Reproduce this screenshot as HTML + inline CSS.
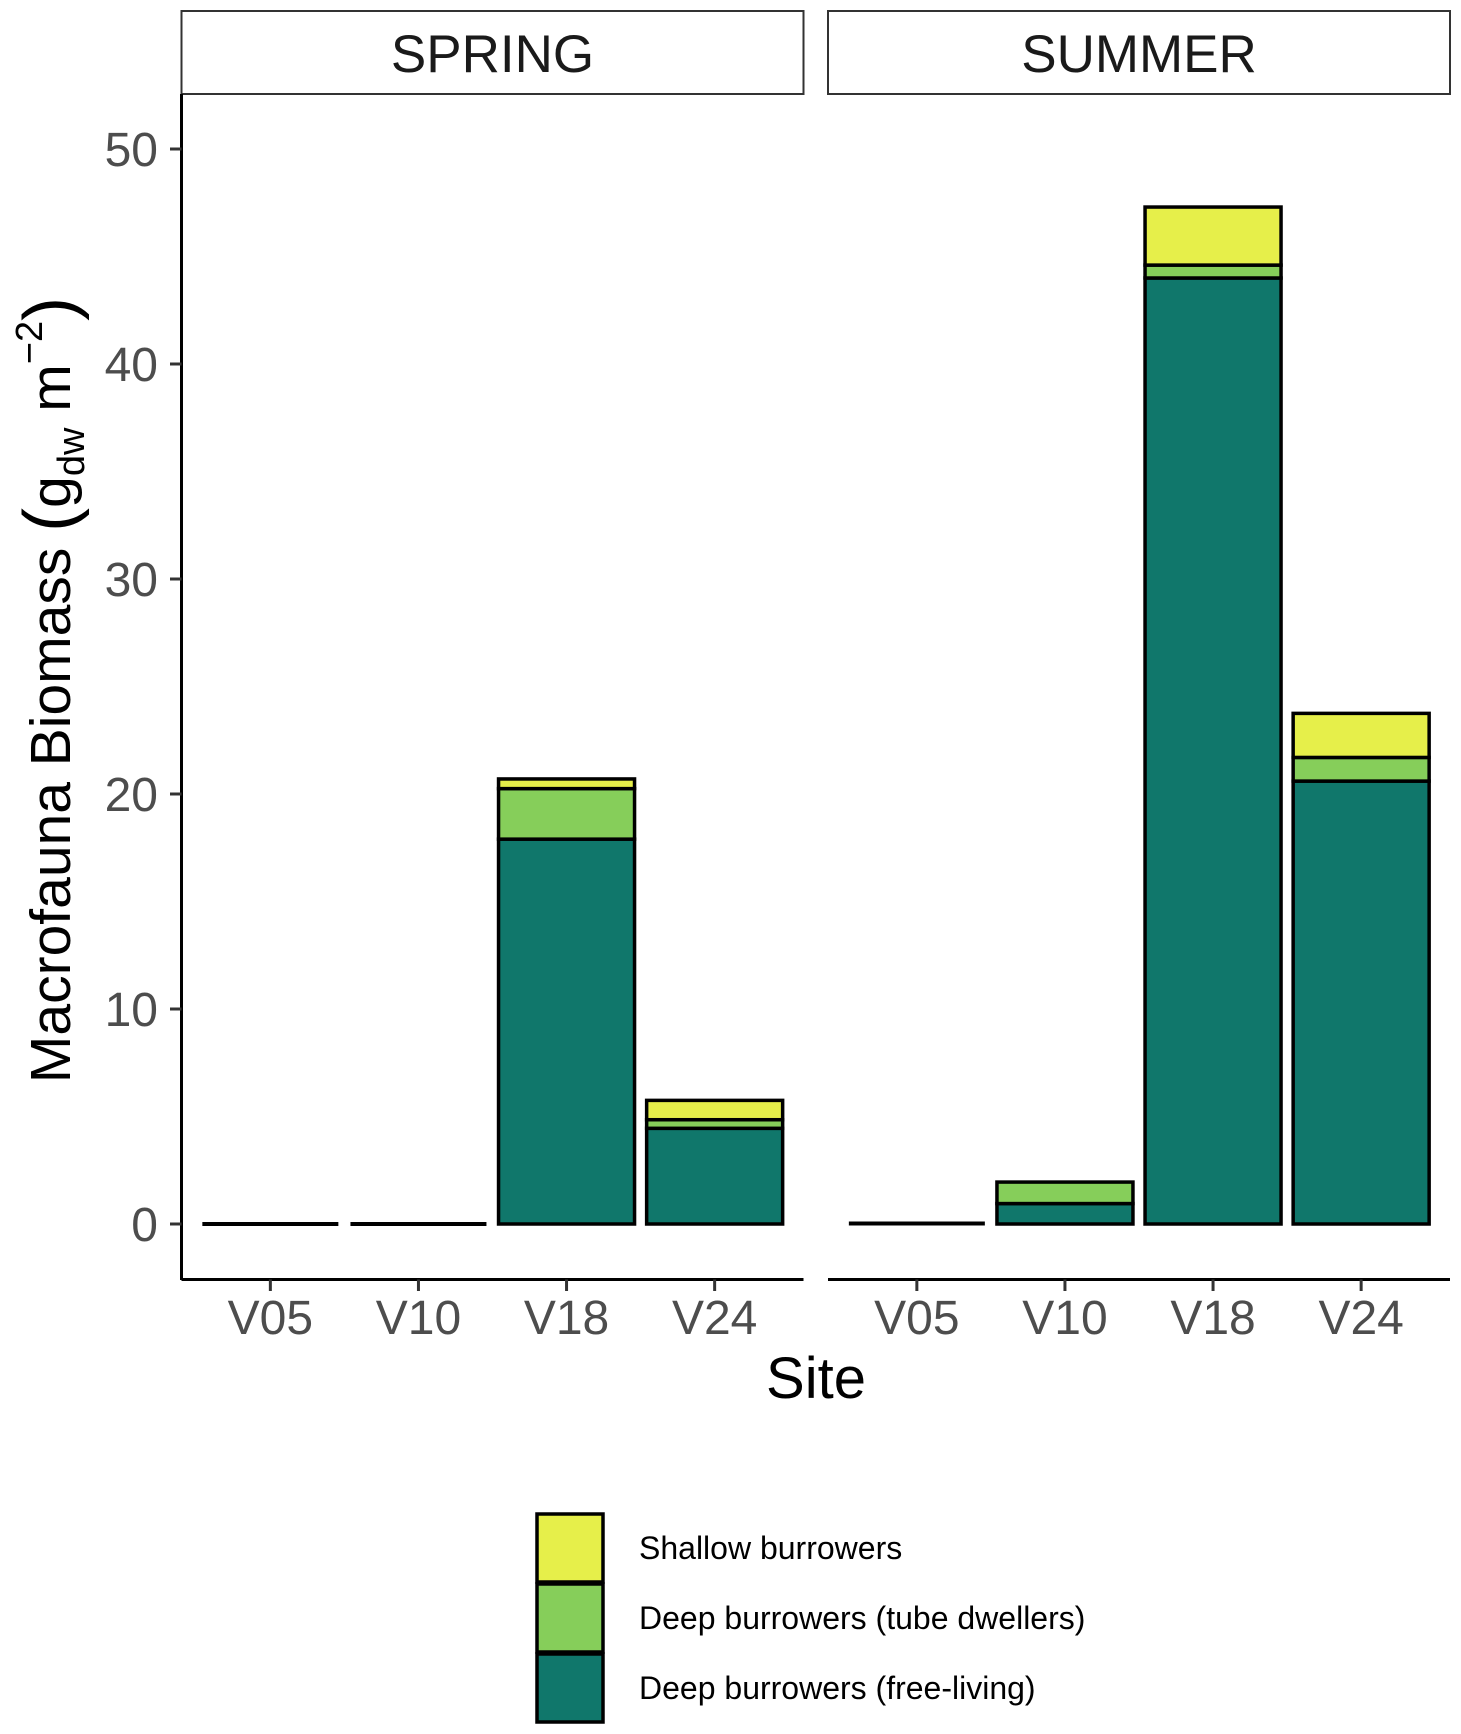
<!DOCTYPE html>
<html><head><meta charset="utf-8"><style>
html,body{margin:0;padding:0;background:#fff;}
svg{display:block;font-family:"Liberation Sans",Arial,sans-serif;}
</style></head><body>
<svg id="chart" width="1461" height="1734" viewBox="0 0 1461 1734">
<g id="panels"></g>
<g>
<line x1="181.5" y1="94" x2="181.5" y2="1280" stroke="#000" stroke-width="3"/>
<g id="yticks"></g>
</g>
<text x="816" y="1398" font-size="58" text-anchor="middle" fill="#000">Site</text>
<text transform="translate(70,690) rotate(-90)" font-size="57" text-anchor="middle" fill="#000">Macrofauna Biomass <tspan font-size="72" dy="4">(</tspan><tspan dy="-4">g</tspan><tspan font-size="38" dy="14">dw</tspan><tspan dy="-14"> m</tspan><tspan font-size="38" dy="-28">−2</tspan><tspan font-size="72" dy="32">)</tspan></text>
<g id="legend"></g>
</svg>
<script>
const panels = ["SPRING","SUMMER"];
const sites = ["V05","V10","V18","V24"];
const seriesNames = ["Deep burrowers (free-living)","Deep burrowers (tube dwellers)","Shallow burrowers"];
const freeLiving = [[0,0,17.9,4.45],[0.05,0.95,44.0,20.6]];
const tubeDwellers = [[0,0,2.35,0.4],[0,1.0,0.6,1.1]];
const shallow = [[0,0,0.45,0.9],[0,0,2.7,2.05]];
const yTicks = [0,10,20,30,40,50];
const colors = ["#10776B","#86CE5A","#E6EF4A"];

const NS="http://www.w3.org/2000/svg";
function mk(t,a,p){const e=document.createElementNS(NS,t);for(const k in a)e.setAttribute(k,a[k]);p.appendChild(e);return e;}
const y0=1224, perUnit=21.5;
function yScale(v){return y0-v*perUnit;}
const panelX=[[181.5,803.5],[828,1450]];
function xScale(p,i){const [a,b]=panelX[p];const u=(b-a)/4.2;return a+u*(0.6+i);}
const bandW=136;

const yt=document.getElementById('yticks');
yTicks.forEach(v=>{
  const y=yScale(v);
  const l=mk('line',{x1:170,x2:181.5,y1:y,y2:y,stroke:'#333','stroke-width':3},yt);
  
  
  const t=mk('text',{x:158,y:y+17,'font-size':48,'text-anchor':'end',fill:'#4d4d4d'},yt);
  t.textContent=v;
  
  
});

const pg=document.getElementById('panels');
panels.forEach((name,p)=>{
  const g=mk('g',{},pg);
  
  
  const [a,b]=panelX[p];
  const s=mk('rect',{x:a,y:11,width:b-a,height:83,fill:'#fff',stroke:'#333','stroke-width':2},g);
  
  
  const st=mk('text',{x:(a+b)/2,y:72,'font-size':53,'text-anchor':'middle',fill:'#1a1a1a'},g);
  st.textContent=name;
  
  
  const ax=mk('line',{x1:a,x2:b,y1:1279.5,y2:1279.5,stroke:'#000',"stroke-width":3},g);
  
  
  sites.forEach((site,i)=>{
    const cx=xScale(p,i);
    const tk=mk('line',{x1:cx,x2:cx,y1:1279.5,y2:1291,stroke:'#333','stroke-width':3},g);
    
    
    const tl=mk('text',{x:cx,y:1334,'font-size':48,'text-anchor':'middle',fill:'#4d4d4d'},g);
    tl.textContent=site;
    
    
    const vals=[freeLiving[p][i],tubeDwellers[p][i],shallow[p][i]];
    const total=vals[0]+vals[1]+vals[2];
    if(total*perUnit<3){
      const ln=mk('line',{x1:cx-bandW/2,x2:cx+bandW/2,y1:yScale(total/2),y2:yScale(total/2),stroke:'#000','stroke-width':4},g);
      
      
      return;
    }
    let cum=0;
    vals.forEach((v,k)=>{
      const yb=yScale(cum), yt2=yScale(cum+v);
      cum+=v;
      if(v===0) return;
      const r=mk('rect',{x:cx-bandW/2,y:yt2,width:bandW,height:Math.max(0,yb-yt2),fill:colors[k],stroke:'#000','stroke-width':3.5},g);
      
      
    });
  });
});

const lg=document.getElementById('legend');
const order=[2,1,0];
order.forEach((k,j)=>{
  const top=1514+j*70;
  const r=mk('rect',{x:537,y:top,width:66,height:68,fill:colors[k],stroke:'#000','stroke-width':3.5},lg);
  
  
  const t=mk('text',{x:639,y:top+45,'font-size':32,fill:'#000'},lg);
  t.textContent=seriesNames[k];
  
  
});
</script>
</body></html>
